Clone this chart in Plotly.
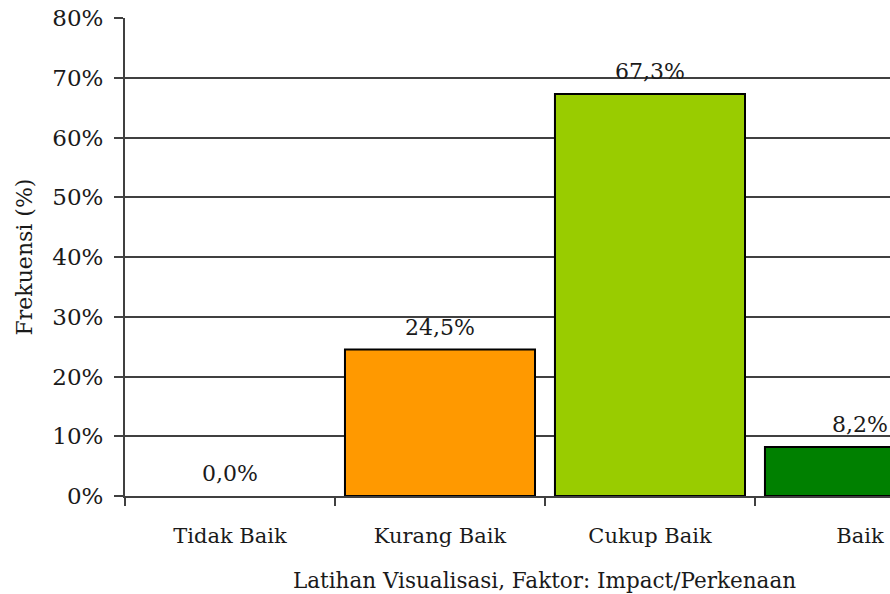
import plotly.graph_objects as go

# Survey result: frequency per rating category
categories = ["Tidak Baik", "Kurang Baik", "Cukup Baik", "Baik"]
values = [0.0, 24.5, 67.3, 8.2]
colors = ["#FFFFFF", "#FF9900", "#99CC00", "#008000"]
y_ticks = [0, 10, 20, 30, 40, 50, 60, 70, 80]
y_tick_text = [f"{v}%" for v in y_ticks]

FONT = "DejaVu Serif"
INK = "#1a1a1a"

# no outline on an empty bar
outline_w = [2 if v > 0 else 0 for v in values]

fig = go.Figure()
fig.add_trace(go.Bar(
    x=categories,
    y=values,
    width=0.905,
    marker=dict(color=colors, line=dict(color="black", width=outline_w)),
    hoverinfo="skip",
))

# value labels above each bar, decimal comma
for c, v in zip(categories, values):
    fig.add_annotation(
        x=c, y=v, xref="x", yref="y",
        text=f"{v:.1f}%".replace(".", ","),
        showarrow=False, yanchor="bottom", yshift=8,
        font=dict(family=FONT, size=22, color=INK),
    )

# x-axis title centred on the full category span
fig.add_annotation(
    x=(len(categories) - 1) / 2, y=0, xref="x", yref="paper",
    yanchor="middle", yshift=-84,
    text="Latihan Visualisasi, Faktor: Impact/Perkenaan",
    showarrow=False, font=dict(family=FONT, size=21.5, color=INK),
)

fig.update_layout(
    width=890, height=594,
    margin=dict(l=125, r=0, t=18, b=98),
    paper_bgcolor="white", plot_bgcolor="white",
    showlegend=False,
    font=dict(family=FONT, color=INK),
    xaxis=dict(
        type="category",
        categoryorder="array", categoryarray=categories,
        range=[-0.5, 3.143],
        tickson="boundaries", ticks="outside", ticklen=8, tickwidth=1.5, tickcolor="#404040",
        ticklabelstandoff=20,
        showgrid=False, zeroline=False,
        showline=True, linecolor="#404040", linewidth=2,
        tickfont=dict(family=FONT, size=21, color=INK),
    ),
    yaxis=dict(
        range=[0, 80],
        tickmode="array", tickvals=y_ticks, ticktext=y_tick_text,
        ticks="outside", ticklen=9, tickwidth=1.5, tickcolor="#404040",
        ticklabelstandoff=6,
        showgrid=True, gridcolor="#404040", gridwidth=1.5,
        zeroline=False,
        showline=True, linecolor="#404040", linewidth=2,
        tickfont=dict(family=FONT, size=23, color=INK),
        title=dict(text="Frekuensi (%)", standoff=14,
                   font=dict(family=FONT, size=22, color=INK)),
    ),
)

fig.write_html("out.html")
